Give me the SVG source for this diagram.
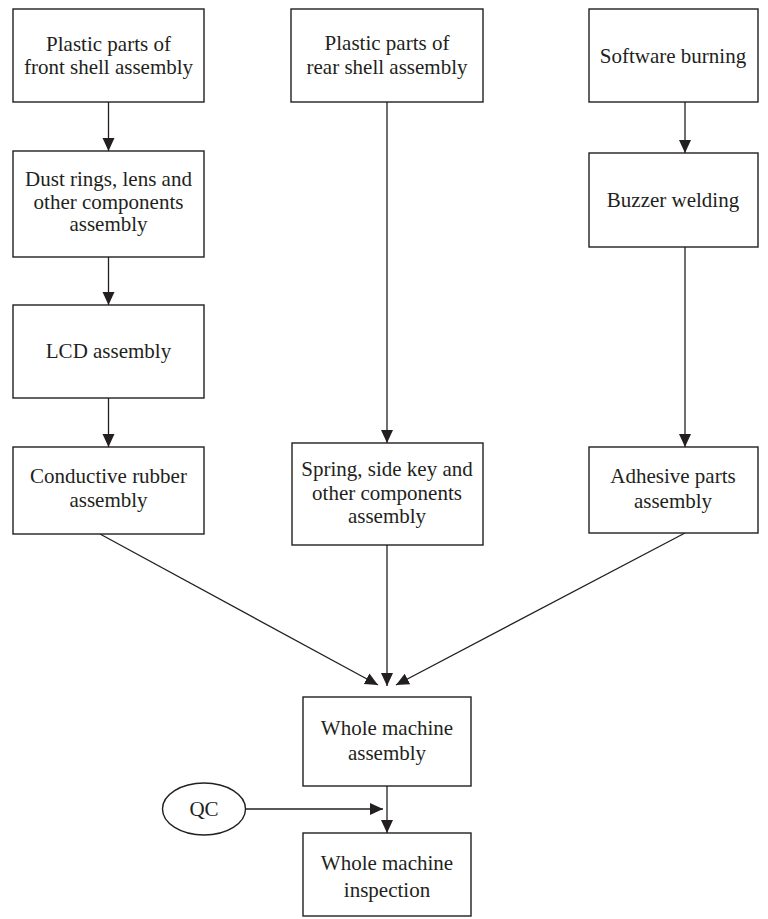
<svg xmlns="http://www.w3.org/2000/svg" width="768" height="919" viewBox="0 0 768 919">
<style>
.box{fill:#fff;stroke:#231f20;stroke-width:1.4}
.t{font-family:"Liberation Serif","Times New Roman",serif;font-size:21px;fill:#231f20;text-anchor:middle}
.c{stroke:#231f20;stroke-width:1.3;fill:none;marker-end:url(#ah)}
</style>
<defs>
<marker id="ah" markerUnits="userSpaceOnUse" markerWidth="14" markerHeight="14" viewBox="0 0 14 14" refX="13" refY="7" orient="auto">
<path d="M0,1 L13,7 L0,13 Z" fill="#231f20"/>
</marker>
</defs>
<rect width="768" height="919" fill="#fff"/>
<g id="connectors">
<line class="c" x1="108.5" y1="102" x2="108.5" y2="151"/>
<line class="c" x1="108.5" y1="257" x2="108.5" y2="305"/>
<line class="c" x1="108.5" y1="398" x2="108.5" y2="447"/>
<line class="c" x1="387" y1="102" x2="387" y2="443"/>
<line class="c" x1="685" y1="102" x2="685" y2="153"/>
<line class="c" x1="685" y1="247" x2="685" y2="447"/>
<line class="c" x1="100" y1="534" x2="378" y2="685"/>
<line class="c" x1="387" y1="545" x2="387" y2="686"/>
<line class="c" x1="685" y1="533" x2="396" y2="685"/>
<line class="c" x1="387" y1="786" x2="387" y2="833"/>
<line class="c" x1="246" y1="809" x2="383" y2="809"/>
</g>
<g id="front-shell"><rect class="box" x="13" y="9" width="191" height="93"/><text class="t" x="108.5" y="51">Plastic parts of</text><text class="t" x="108.5" y="74">front shell assembly</text></g>
<g id="dust-rings"><rect class="box" x="13" y="151" width="191" height="106"/><text class="t" x="108.5" y="186">Dust rings, lens and</text><text class="t" x="108.5" y="209">other components</text><text class="t" x="108.5" y="231">assembly</text></g>
<g id="lcd"><rect class="box" x="13" y="305" width="191" height="93"/><text class="t" x="108.5" y="358">LCD assembly</text></g>
<g id="conductive"><rect class="box" x="13" y="447" width="191" height="87"/><text class="t" x="108.5" y="483">Conductive rubber</text><text class="t" x="108.5" y="507">assembly</text></g>
<g id="rear-shell"><rect class="box" x="291" y="9" width="192" height="93"/><text class="t" x="387" y="50">Plastic parts of</text><text class="t" x="387" y="74">rear shell assembly</text></g>
<g id="spring"><rect class="box" x="292" y="443" width="191" height="102"/><text class="t" x="387" y="476">Spring, side key and</text><text class="t" x="387" y="500">other components</text><text class="t" x="387" y="523">assembly</text></g>
<g id="software"><rect class="box" x="589" y="9" width="169" height="93"/><text class="t" x="673" y="63">Software burning</text></g>
<g id="buzzer"><rect class="box" x="589" y="153" width="169" height="94"/><text class="t" x="673" y="207">Buzzer welding</text></g>
<g id="adhesive"><rect class="box" x="589" y="447" width="169" height="86"/><text class="t" x="673" y="483">Adhesive parts</text><text class="t" x="673" y="508">assembly</text></g>
<g id="whole-assembly"><rect class="box" x="303" y="697" width="168" height="89"/><text class="t" x="387" y="735">Whole machine</text><text class="t" x="387" y="760">assembly</text></g>
<g id="qc"><ellipse class="box" cx="204" cy="809" rx="41.5" ry="26"/><text class="t" x="204" y="816">QC</text></g>
<g id="inspection"><rect class="box" x="303" y="833" width="168" height="83"/><text class="t" x="387" y="870">Whole machine</text><text class="t" x="387" y="897">inspection</text></g>
</svg>
